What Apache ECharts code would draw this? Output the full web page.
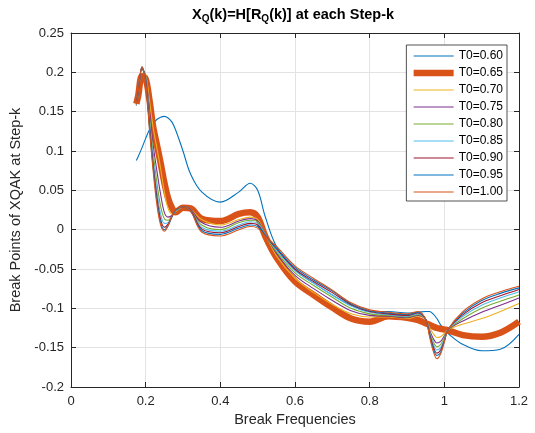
<!DOCTYPE html>
<html>
<head>
<meta charset="utf-8">
<script src="https://cdn.jsdelivr.net/npm/echarts@6/dist/echarts.min.js"></script>
<style>
  html, body { margin: 0; padding: 0; background: #fff; }
  #chart { width: 535px; height: 433px; }
</style>
</head>
<body>
<div id="chart"></div>
<script>
// break frequencies (shared x for every curve)
var xs = [0.175, 0.18, 0.19, 0.20, 0.21, 0.22, 0.23, 0.24, 0.25, 0.26, 0.27, 0.28, 0.30, 0.32, 0.35, 0.40, 0.45, 0.48, 0.50, 0.52,
          0.55, 0.60, 0.65, 0.70, 0.75, 0.80, 0.85, 0.90, 0.93, 0.95, 0.96, 0.97, 0.98, 0.99, 1.00, 1.01, 1.05, 1.10, 1.15, 1.20];

var t060 = [0.088, 0.093, 0.104, 0.116, 0.127, 0.135, 0.140, 0.143, 0.144, 0.142, 0.137, 0.127, 0.100, 0.071, 0.048, 0.035, 0.048, 0.059, 0.050, 0.017,
            -0.021, -0.051, -0.068, -0.083, -0.096, -0.104, -0.104, -0.106, -0.105, -0.104, -0.104, -0.107, -0.113, -0.121, -0.127, -0.132, -0.146, -0.154, -0.152, -0.133];
var t065 = [0.160, 0.170, 0.195, 0.192, 0.165, 0.131, 0.108, 0.085, 0.060, 0.040, 0.028, 0.022, 0.028, 0.027, 0.014, 0.011, 0.020, 0.022, 0.016, -0.008,
            -0.035, -0.066, -0.083, -0.099, -0.113, -0.117, -0.110, -0.112, -0.115, -0.119, -0.121, -0.123, -0.125, -0.126, -0.127, -0.128, -0.134, -0.136, -0.131, -0.117];
var t070 = [0.158, 0.172, 0.204, 0.197, 0.165, 0.130, 0.104, 0.078, 0.048, 0.027, 0.020, 0.023, 0.029, 0.026, 0.013, 0.006, 0.013, 0.016, 0.013, -0.005,
            -0.033, -0.062, -0.080, -0.095, -0.107, -0.111, -0.111, -0.113, -0.110, -0.114, -0.124, -0.132, -0.137, -0.136, -0.132, -0.127, -0.120, -0.113, -0.104, -0.094];
var t075 = [0.158, 0.172, 0.205, 0.195, 0.152, 0.108, 0.075, 0.045, 0.022, 0.016, 0.018, 0.024, 0.029, 0.026, 0.009, 0.003, 0.011, 0.014, 0.011, -0.005,
            -0.030, -0.058, -0.075, -0.090, -0.103, -0.109, -0.110, -0.112, -0.109, -0.114, -0.127, -0.138, -0.144, -0.142, -0.135, -0.127, -0.116, -0.105, -0.096, -0.087];
var t080 = [0.159, 0.173, 0.205, 0.194, 0.145, 0.098, 0.060, 0.030, 0.014, 0.012, 0.017, 0.024, 0.029, 0.025, 0.006, 0.000, 0.009, 0.012, 0.010, -0.006,
            -0.028, -0.055, -0.071, -0.086, -0.100, -0.107, -0.109, -0.111, -0.108, -0.114, -0.129, -0.142, -0.149, -0.146, -0.137, -0.127, -0.113, -0.100, -0.091, -0.083];
var t085 = [0.159, 0.173, 0.206, 0.193, 0.140, 0.090, 0.050, 0.020, 0.008, 0.009, 0.016, 0.024, 0.029, 0.025, 0.003, -0.002, 0.006, 0.010, 0.008, -0.006,
            -0.026, -0.052, -0.068, -0.083, -0.097, -0.105, -0.108, -0.110, -0.107, -0.114, -0.130, -0.145, -0.153, -0.150, -0.139, -0.127, -0.110, -0.096, -0.087, -0.079];
var t090 = [0.160, 0.174, 0.206, 0.191, 0.135, 0.083, 0.042, 0.013, 0.003, 0.007, 0.016, 0.025, 0.029, 0.025, 0.001, -0.004, 0.004, 0.008, 0.006, -0.007,
            -0.024, -0.050, -0.066, -0.080, -0.095, -0.104, -0.107, -0.109, -0.106, -0.114, -0.132, -0.148, -0.157, -0.153, -0.141, -0.127, -0.108, -0.093, -0.084, -0.076];
var t095 = [0.160, 0.174, 0.207, 0.190, 0.131, 0.079, 0.037, 0.009, 0.000, 0.005, 0.016, 0.025, 0.029, 0.024, -0.001, -0.006, 0.002, 0.006, 0.004, -0.007,
            -0.023, -0.048, -0.064, -0.078, -0.094, -0.103, -0.106, -0.108, -0.105, -0.114, -0.133, -0.151, -0.160, -0.156, -0.142, -0.127, -0.106, -0.090, -0.081, -0.074];
var t100 = [0.160, 0.175, 0.207, 0.188, 0.128, 0.075, 0.032, 0.006, -0.002, 0.005, 0.017, 0.026, 0.029, 0.024, -0.003, -0.008, 0.000, 0.004, 0.002, -0.008,
            -0.021, -0.046, -0.062, -0.077, -0.093, -0.102, -0.105, -0.107, -0.104, -0.114, -0.135, -0.154, -0.164, -0.158, -0.143, -0.127, -0.104, -0.088, -0.079, -0.072];

var names = ['T0=0.60', 'T0=0.65', 'T0=0.70', 'T0=0.75', 'T0=0.80', 'T0=0.85', 'T0=0.90', 'T0=0.95', 'T0=1.00'];
var curves = [t060, t065, t070, t075, t080, t085, t090, t095, t100];
var colors = ['#0072BD', '#D95319', '#EDB120', '#7E2F8E', '#77AC30', '#4DBEEE', '#A2142F', '#0072BD', '#D95319'];

var txt = '#262626';
var font = 'Liberation Sans, Arial, Helvetica, sans-serif';

function pairs(ys) {
    return xs.map(function(x, i) { return [x, ys[i]]; });
}

var series = curves.map(function(ys, i) {
    return {
        name: names[i],
        type: 'line',
        data: pairs(ys),
        symbol: 'none',
        smooth: 0.35,
        color: colors[i],
        lineStyle: { width: i === 1 ? 6.5 : 1.1, color: colors[i] },
        emphasis: { disabled: true },
        animation: false
    };
});

var chart = echarts.init(document.getElementById('chart'));

// plain axis pieces shared by bottom/top and left/right
function boxAxis(pos, isX, main) {
    return {
        type: 'value',
        position: pos,
        min: isX ? 0 : -0.2,
        max: isX ? 1.2 : 0.25,
        interval: isX ? 0.2 : 0.05,
        axisLine: { show: true, onZero: false, lineStyle: { color: txt, width: 1 } },
        axisTick: { show: true, inside: true, length: 5, lineStyle: { color: txt } },
        splitLine: { show: main, lineStyle: { color: '#e3e3e3', width: 1 } },
        axisLabel: {
            show: main,
            color: txt,
            fontSize: 13,
            fontFamily: font,
            margin: isX ? 8 : 7,
            formatter: function(v) { return String(+v.toFixed(2)); }
        }
    };
}

var xMain = boxAxis('bottom', true, true);
xMain.name = 'Break Frequencies';
xMain.nameLocation = 'middle';
xMain.nameGap = 25;
xMain.nameTextStyle = { color: txt, fontSize: 14.5, fontFamily: font };

var yMain = boxAxis('left', false, true);
yMain.name = 'Break Points of XQAK at Step-k';
yMain.nameLocation = 'middle';
yMain.nameGap = 46;
yMain.nameTextStyle = { color: txt, fontSize: 14.5, fontFamily: font };

chart.setOption({
    backgroundColor: '#fff',
    animation: false,
    title: {
        text: '{b|X}{s|Q}{b|(k)=H[R}{s|Q}{b|(k)] at each Step-k}',
        left: 288,
        top: 0,
        textAlign: 'center',
        textStyle: {
            rich: {
                b: { fontSize: 14.5, fontWeight: 'bold', color: '#000', fontFamily: font },
                s: { fontSize: 10, fontWeight: 'bold', color: '#000', fontFamily: font, padding: [9, 0, 0, 0] }
            }
        }
    },
    legend: {
        orient: 'vertical',
        right: 28,
        top: 45,
        padding: [5, 4, 3, 4],
        itemWidth: 40,
        itemHeight: 12,
        itemGap: 5,
        backgroundColor: '#fff',
        borderColor: txt,
        borderWidth: 0.8,
        borderRadius: 0,
        itemStyle: { opacity: 0 },
        lineStyle: { width: 'inherit' },
        textStyle: { color: '#000', fontSize: 12, fontFamily: font },
        data: names
    },
    grid: { left: 71, right: 16, top: 33, bottom: 46, containLabel: false },
    xAxis: [xMain, boxAxis('top', true, false)],
    yAxis: [yMain, boxAxis('right', false, false)],
    series: series
});
</script>
</body>
</html>
